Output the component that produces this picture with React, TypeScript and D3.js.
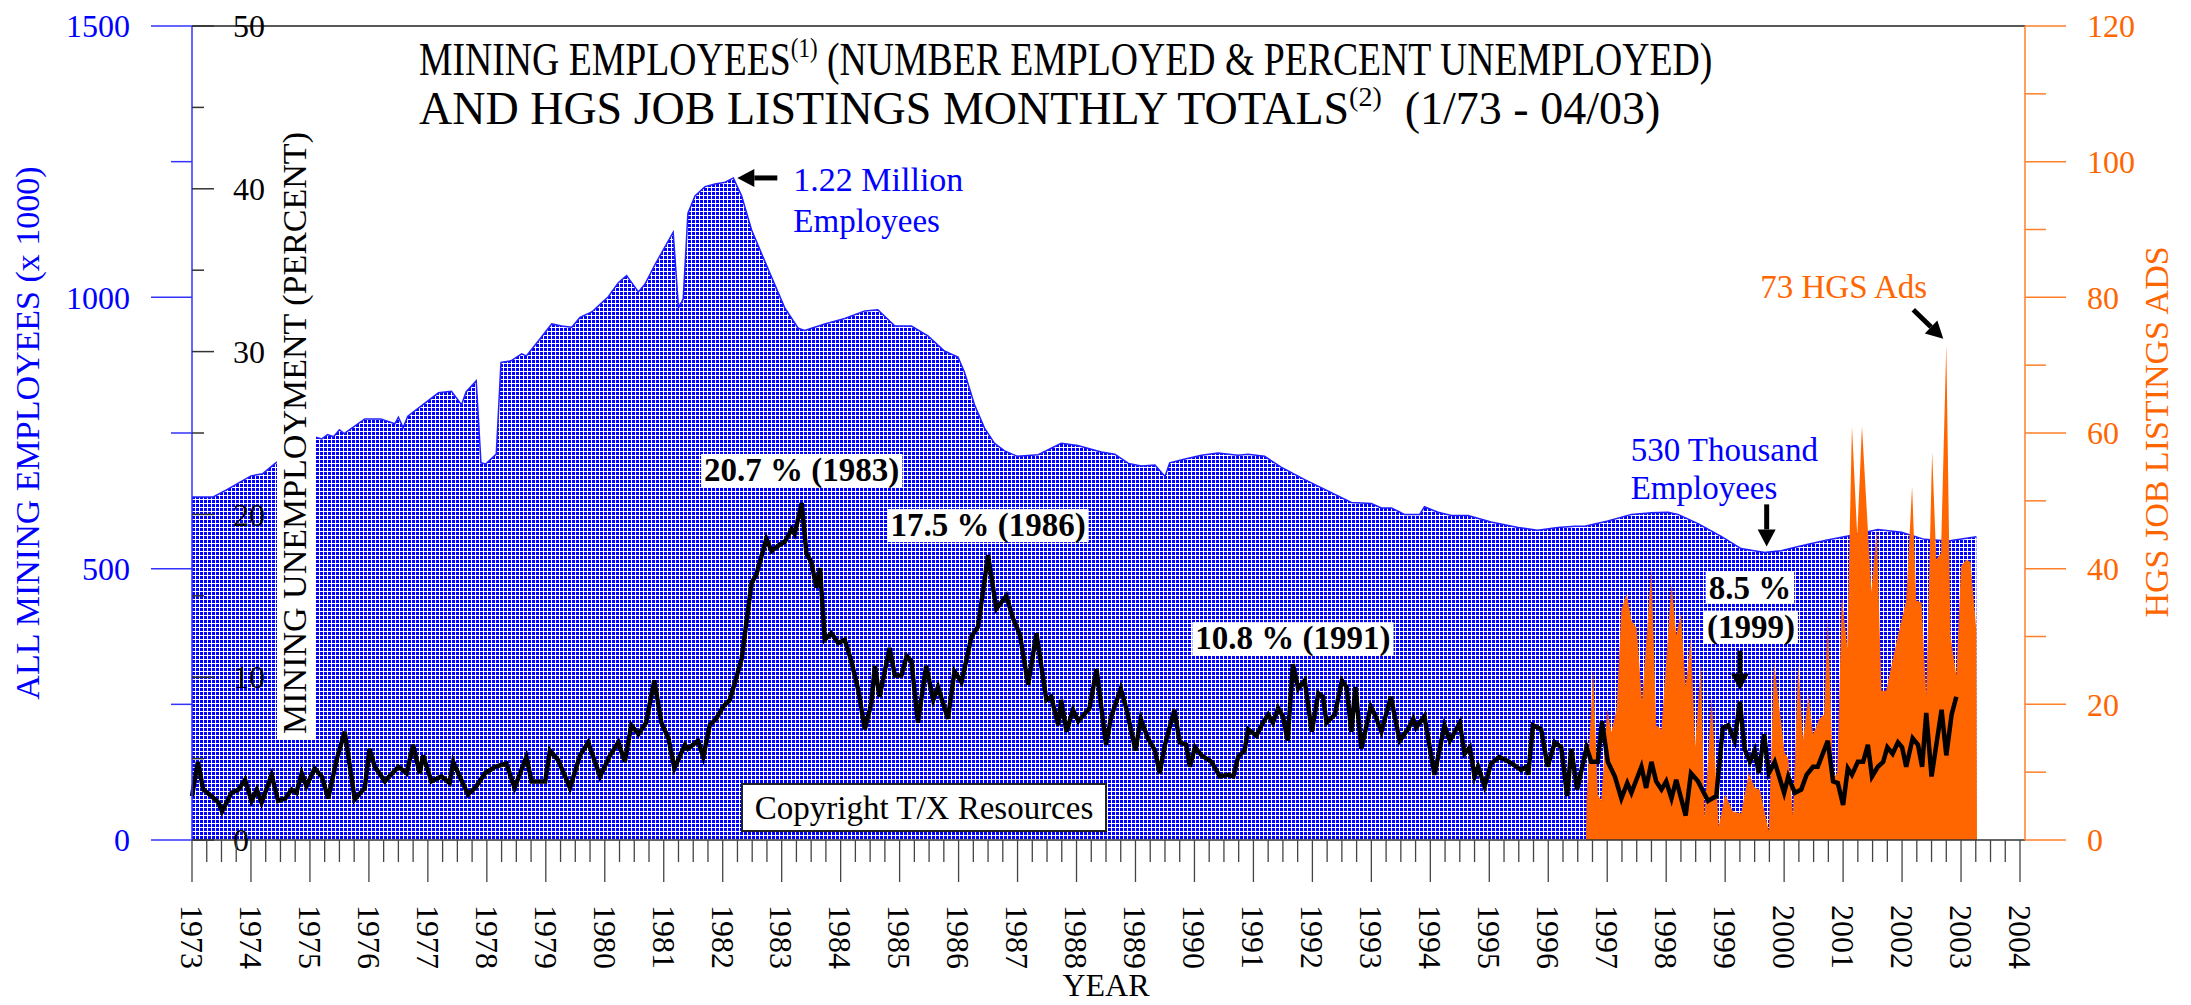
import React, { useEffect, useRef } from 'react';
import * as d3 from 'd3';

type Pt = [number, number];

// all mining employees, thousands (decimal year, value)
const employment: Pt[] = [
  [1973.0, 632], [1973.36, 632], [1973.6, 646], [1974.0, 671], [1974.2, 675], [1974.4, 693],
  [1974.75, 720], [1975.08, 743], [1975.2, 739], [1975.3, 747], [1975.4, 743], [1975.5, 756],
  [1975.58, 749], [1975.93, 776], [1976.2, 776], [1976.44, 767], [1976.5, 779], [1976.58, 760],
  [1976.66, 781], [1976.95, 805], [1977.18, 824], [1977.4, 827], [1977.57, 802], [1977.65, 826],
  [1977.82, 846], [1977.9, 695], [1977.98, 693], [1978.16, 711], [1978.24, 880], [1978.41, 883],
  [1978.59, 896], [1978.67, 892], [1978.87, 919], [1979.1, 951], [1979.27, 947], [1979.44, 945],
  [1979.58, 963], [1979.78, 973], [1979.92, 987], [1980.06, 1001], [1980.23, 1027], [1980.37, 1040],
  [1980.57, 1010], [1980.68, 1024], [1980.85, 1060], [1981.16, 1120], [1981.25, 981], [1981.33, 997],
  [1981.41, 1155], [1981.53, 1187], [1981.7, 1204], [1981.87, 1209], [1982.04, 1212], [1982.18, 1220],
  [1982.32, 1187], [1982.49, 1124], [1982.77, 1052], [1983.05, 981], [1983.28, 943], [1983.39, 939],
  [1983.73, 951], [1984.07, 961], [1984.41, 975], [1984.63, 977], [1984.92, 947], [1985.2, 947],
  [1985.48, 929], [1985.76, 901], [1985.99, 890], [1986.1, 862], [1986.27, 802], [1986.44, 759],
  [1986.61, 731], [1986.78, 717], [1987.0, 707], [1987.35, 710], [1987.74, 731], [1988.02, 727],
  [1988.42, 715], [1988.65, 711], [1988.88, 694], [1989.1, 689], [1989.33, 691], [1989.5, 670],
  [1989.58, 695], [1989.84, 702], [1990.12, 709], [1990.4, 713], [1990.74, 709], [1990.91, 711],
  [1991.19, 707], [1991.47, 687], [1991.87, 664], [1992.21, 646], [1992.66, 622], [1993.0, 620],
  [1993.17, 612], [1993.34, 612], [1993.56, 600], [1993.82, 600], [1993.9, 614], [1994.13, 604],
  [1994.36, 598], [1994.64, 598], [1995.03, 586], [1995.49, 576], [1995.82, 571], [1996.16, 576],
  [1996.45, 578], [1996.62, 578], [1997.01, 588], [1997.41, 600], [1997.75, 603], [1998.03, 604],
  [1998.2, 600], [1998.54, 583], [1998.94, 559], [1999.27, 537], [1999.67, 530], [1999.95, 533],
  [2000.24, 541], [2000.69, 552], [2001.08, 560], [2001.59, 572], [2001.99, 567], [2002.38, 554],
  [2002.78, 551], [2003.26, 559],
];

// mining unemployment, percent
const unemployment: Pt[] = [
  [1973.0, 2.7], [1973.1, 4.8], [1973.19, 3.1], [1973.33, 2.7], [1973.45, 2.3], [1973.51, 1.75],
  [1973.67, 2.9], [1973.79, 3.1], [1973.9, 3.7], [1974.01, 2.4], [1974.1, 3.1], [1974.18, 2.3],
  [1974.35, 4.0], [1974.46, 2.4], [1974.58, 2.55], [1974.69, 3.1], [1974.77, 2.9], [1974.86, 4.1],
  [1974.94, 3.3], [1975.08, 4.4], [1975.2, 3.9], [1975.31, 2.55], [1975.45, 4.9], [1975.59, 6.65],
  [1975.76, 2.5], [1975.93, 3.2], [1976.01, 5.6], [1976.1, 4.5], [1976.27, 3.6], [1976.5, 4.5],
  [1976.64, 4.1], [1976.75, 5.85], [1976.86, 4.1], [1976.92, 5.2], [1977.06, 3.6], [1977.23, 3.9],
  [1977.37, 3.5], [1977.43, 4.8], [1977.54, 3.9], [1977.68, 2.8], [1977.8, 3.2], [1977.97, 4.1],
  [1978.14, 4.5], [1978.33, 4.7], [1978.47, 3.2], [1978.67, 5.1], [1978.76, 3.6], [1978.99, 3.6],
  [1979.07, 5.5], [1979.21, 4.9], [1979.41, 3.2], [1979.58, 5.2], [1979.72, 6.0], [1979.92, 3.9],
  [1980.09, 5.2], [1980.23, 6.0], [1980.34, 4.8], [1980.45, 7.05], [1980.57, 6.5], [1980.7, 7.2],
  [1980.84, 9.8], [1980.96, 7.2], [1981.08, 6.25], [1981.18, 4.4], [1981.36, 5.85], [1981.41, 5.6],
  [1981.58, 6.1], [1981.67, 5.1], [1981.78, 7.05], [1981.89, 7.45], [1982.01, 8.2], [1982.12, 8.6],
  [1982.32, 11.1], [1982.49, 15.8], [1982.57, 16.3], [1982.74, 18.5], [1982.83, 17.75], [1982.97, 18.15],
  [1983.05, 18.3], [1983.17, 19.1], [1983.22, 18.8], [1983.34, 20.7], [1983.42, 17.6], [1983.5, 17.1],
  [1983.59, 15.5], [1983.65, 16.7], [1983.73, 12.3], [1983.84, 12.7], [1983.96, 12.1], [1984.07, 12.3],
  [1984.18, 11.0], [1984.3, 9.2], [1984.41, 6.8], [1984.52, 8.4], [1984.58, 10.7], [1984.66, 8.8],
  [1984.83, 11.8], [1984.92, 10.1], [1985.03, 10.1], [1985.12, 11.3], [1985.2, 11.0], [1985.31, 7.2],
  [1985.45, 10.7], [1985.57, 8.6], [1985.65, 9.4], [1985.82, 7.45], [1985.93, 10.35], [1986.05, 9.7],
  [1986.22, 12.5], [1986.33, 13.1], [1986.5, 17.5], [1986.64, 14.2], [1986.81, 15.0], [1986.92, 13.65],
  [1987.04, 12.6], [1987.18, 9.55], [1987.32, 12.7], [1987.49, 8.6], [1987.57, 8.8], [1987.69, 7.05],
  [1987.74, 8.6], [1987.83, 6.65], [1987.94, 8.0], [1988.03, 7.3], [1988.22, 8.1], [1988.34, 10.5],
  [1988.5, 5.85], [1988.59, 7.6], [1988.75, 9.3], [1988.85, 8.0], [1989.0, 5.5], [1989.09, 7.45],
  [1989.21, 6.25], [1989.33, 5.5], [1989.41, 4.1], [1989.5, 5.85], [1989.66, 8.0], [1989.75, 6.0],
  [1989.86, 5.85], [1989.92, 4.5], [1990.01, 5.7], [1990.12, 5.2], [1990.29, 4.8], [1990.43, 3.9],
  [1990.57, 4.0], [1990.66, 3.9], [1990.74, 5.1], [1990.85, 5.5], [1990.91, 6.8], [1991.05, 6.4],
  [1991.16, 7.2], [1991.25, 7.7], [1991.33, 7.2], [1991.42, 8.1], [1991.5, 7.6], [1991.58, 6.1],
  [1991.67, 10.8], [1991.76, 9.3], [1991.87, 9.8], [1991.99, 6.65], [1992.1, 9.0], [1992.18, 8.8],
  [1992.24, 7.2], [1992.38, 7.7], [1992.5, 9.8], [1992.58, 9.4], [1992.66, 6.65], [1992.73, 9.4],
  [1992.83, 5.6], [1992.99, 8.2], [1993.06, 7.7], [1993.17, 6.65], [1993.33, 8.8], [1993.48, 6.1],
  [1993.62, 6.8], [1993.71, 7.45], [1993.76, 6.9], [1993.9, 7.6], [1994.07, 4.0], [1994.24, 7.05],
  [1994.33, 6.1], [1994.5, 7.2], [1994.58, 5.3], [1994.67, 5.7], [1994.75, 3.9], [1994.81, 4.5],
  [1994.92, 3.3], [1995.03, 4.7], [1995.17, 5.1], [1995.34, 4.8], [1995.54, 4.3], [1995.63, 4.5],
  [1995.66, 4.0], [1995.74, 7.05], [1995.88, 6.8], [1995.99, 4.5], [1996.11, 6.0], [1996.22, 5.7],
  [1996.32, 2.7], [1996.39, 5.6], [1996.49, 3.1], [1996.65, 5.7], [1996.73, 4.8], [1996.84, 4.8],
  [1996.91, 7.3], [1997.01, 4.8], [1997.13, 3.9], [1997.24, 2.55], [1997.34, 3.5], [1997.41, 2.9],
  [1997.58, 4.5], [1997.66, 3.2], [1997.75, 4.8], [1997.83, 3.6], [1997.92, 3.1], [1998.0, 3.6],
  [1998.09, 2.55], [1998.17, 3.7], [1998.33, 1.5], [1998.42, 4.1], [1998.54, 3.6], [1998.71, 2.4],
  [1998.85, 2.7], [1998.96, 6.9], [1999.05, 7.05], [1999.16, 6.1], [1999.25, 8.5], [1999.33, 5.6],
  [1999.42, 4.8], [1999.5, 5.5], [1999.57, 4.1], [1999.66, 6.5], [1999.74, 4.1], [1999.84, 4.8],
  [2000.0, 2.9], [2000.07, 3.9], [2000.18, 2.9], [2000.29, 3.1], [2000.38, 4.0], [2000.49, 4.5],
  [2000.57, 4.5], [2000.74, 6.1], [2000.83, 3.6], [2000.91, 3.5], [2001.0, 2.15], [2001.08, 4.4],
  [2001.15, 4.0], [2001.25, 4.8], [2001.34, 4.8], [2001.42, 5.85], [2001.49, 3.9], [2001.59, 4.5],
  [2001.68, 4.8], [2001.75, 5.7], [2001.84, 5.3], [2001.93, 6.0], [2002.0, 5.7], [2002.07, 4.5],
  [2002.18, 6.25], [2002.27, 5.85], [2002.34, 4.5], [2002.41, 7.8], [2002.5, 3.9], [2002.67, 8.0],
  [2002.75, 5.2], [2002.84, 7.7], [2002.92, 8.8],
];

// HGS job listing ads per month
const hgsAds: Pt[] = [
  [1996.64, 0], [1996.65, 6], [1996.76, 25], [1996.84, 6.7], [1996.9, 5.8], [1997.0, 19.4],
  [1997.07, 15.9], [1997.16, 19.4], [1997.24, 34], [1997.33, 36.3], [1997.41, 32.4], [1997.5, 31.2],
  [1997.59, 20.4], [1997.75, 40.1], [1997.83, 16.9], [1997.92, 16.3], [1998.09, 37.9], [1998.17, 30.2],
  [1998.25, 33.4], [1998.33, 22.6], [1998.42, 29.9], [1998.49, 13.7], [1998.59, 26.1], [1998.65, 3.3],
  [1998.77, 21], [1998.89, 2], [1999.0, 6.75], [1999.13, 4.2], [1999.27, 3.9], [1999.4, 9.9],
  [1999.5, 7.7], [1999.59, 7.4], [1999.74, 1.3], [1999.83, 26.1], [2000.01, 12.8], [2000.07, 12.1],
  [2000.15, 3.6], [2000.24, 26.1], [2000.32, 14.7], [2000.41, 21.35], [2000.49, 15.6], [2000.6, 17.9],
  [2000.68, 18.5], [2000.74, 33.1], [2000.83, 9.0], [2000.9, 9.9], [2000.98, 35.9], [2001.07, 28.3],
  [2001.15, 61], [2001.24, 44.8], [2001.32, 61], [2001.48, 36.6], [2001.57, 45.8], [2001.65, 22],
  [2001.73, 22], [2001.93, 30.2], [2002.07, 35.3], [2002.17, 52.1], [2002.24, 35.3], [2002.33, 35.0],
  [2002.41, 21.35], [2002.51, 57.2], [2002.58, 41.3], [2002.66, 42.3], [2002.75, 73], [2002.82, 30.2],
  [2002.92, 24.2], [2003.0, 40.4], [2003.09, 41.3], [2003.16, 41.0], [2003.26, 30.9], [2003.27, 0],
];

const empTicks = [0, 500, 1000, 1500];
const empMinorTicks = [250, 750, 1250];
const pctTicks = [0, 10, 20, 30, 40, 50];
const pctMinorTicks = [5, 15, 25, 35, 45];
const adsTicks = [0, 20, 40, 60, 80, 100, 120];
const adsMinorTicks = [10, 30, 50, 70, 90, 110];
const yearTicks = d3.range(1973, 2005);

// call-outs: [year, value, label, offset above the peak]
const peakLabels: [number, number, string, number][] = [
  [1983.34, 20.7, '20.7 % (1983)', 22],
  [1986.5, 17.5, '17.5 % (1986)', 19],
  [1991.67, 10.8, '10.8 % (1991)', 15],
];

const FONT = '"Liberation Serif", "Times New Roman", Times, serif';
const BLUE = '#0000ff';
const ORANGE = '#ff6600';

function drawArrow(g: any, x1: number, y1: number, x2: number, y2: number) {
  const ang = Math.atan2(y2 - y1, x2 - x1);
  const headLen = 17, headW = 9;
  const bx = x2 - headLen * Math.cos(ang);
  const by = y2 - headLen * Math.sin(ang);
  g.append('line')
    .attr('x1', x1).attr('y1', y1).attr('x2', bx).attr('y2', by)
    .attr('stroke', '#000').attr('stroke-width', 5);
  g.append('path')
    .attr('d', `M${x2},${y2}L${bx + headW * Math.sin(ang)},${by - headW * Math.cos(ang)}L${bx - headW * Math.sin(ang)},${by + headW * Math.cos(ang)}Z`)
    .attr('fill', '#000');
}

function boxedText(g: any, x: number, y: number, text: string, anchor = 'middle') {
  const t = g.append('text')
    .attr('x', x).attr('y', y)
    .attr('text-anchor', anchor)
    .attr('font-weight', 'bold')
    .attr('font-size', 33)
    .text(text);
  const bb = (t.node() as SVGTextElement).getBBox();
  g.insert('rect', () => t.node())
    .attr('x', bb.x - 3).attr('y', bb.y + 2)
    .attr('width', bb.width + 6).attr('height', bb.height - 4)
    .attr('fill', '#fff');
  return t;
}

function drawChart(node: SVGSVGElement) {
  const left = 192, right = 2025, top = 26, bottom = 840;

  const svg = d3.select(node);
  svg.selectAll('*').remove();
  svg.attr('width', 2191).attr('height', 1005)
    .attr('font-family', FONT)
    .style('font-family', FONT)
    .style('background', '#fff');

  const x = d3.scaleLinear().domain([1973, 2004]).range([left, 2020]);
  const yEmp = d3.scaleLinear().domain([0, 1500]).range([bottom, top]);
  const yPct = d3.scaleLinear().domain([0, 50]).range([bottom, top]);
  const yAds = d3.scaleLinear().domain([0, 120]).range([bottom, top]);

  // dotted fill like the original hatch
  const pat = svg.append('defs').append('pattern')
    .attr('id', 'dots').attr('patternUnits', 'userSpaceOnUse')
    .attr('width', 4).attr('height', 4);
  pat.append('rect').attr('width', 4).attr('height', 4).attr('fill', '#fff');
  pat.append('rect').attr('x', 0).attr('y', 0).attr('width', 3).attr('height', 3).attr('fill', BLUE);

  // Employees area
  const empArea = d3.area<Pt>().x(d => x(d[0])).y0(bottom).y1(d => yEmp(d[1]));
  const empLine = d3.line<Pt>().x(d => x(d[0])).y(d => yEmp(d[1]));
  svg.append('path').datum(employment).attr('d', empArea).attr('fill', 'url(#dots)');
  svg.append('path').datum(employment).attr('d', empLine)
    .attr('fill', 'none').attr('stroke', '#2020ff').attr('stroke-width', 1.5);

  // percent axis title sits on a white strip
  svg.append('rect').attr('x', 277).attr('y', 120).attr('width', 39).attr('height', 620).attr('fill', '#fff');
  svg.append('text')
    .attr('transform', 'translate(306,433) rotate(-90)')
    .attr('text-anchor', 'middle').attr('font-size', 34)
    .text('MINING UNEMPLOYMENT (PERCENT)');

  // HGS ads area
  const adsArea = d3.area<Pt>().x(d => x(d[0])).y0(bottom).y1(d => yAds(d[1]));
  svg.append('path').datum(hgsAds).attr('d', adsArea).attr('fill', ORANGE);

  // Unemployment line
  const pctLine = d3.line<Pt>().x(d => x(d[0])).y(d => yPct(d[1]));
  svg.append('path').datum(unemployment).attr('d', pctLine)
    .attr('fill', 'none').attr('stroke', '#000').attr('stroke-width', 4.5)
    .attr('stroke-linejoin', 'miter');

  // frame
  svg.append('line').attr('x1', left).attr('x2', right).attr('y1', top).attr('y2', top)
    .attr('stroke', '#222').attr('stroke-width', 1.5);
  svg.append('line').attr('x1', left).attr('x2', right).attr('y1', bottom).attr('y2', bottom)
    .attr('stroke', '#333').attr('stroke-width', 1.5);

  // Left blue axis
  const gE = svg.append('g');
  gE.append('line').attr('x1', left).attr('x2', left).attr('y1', top).attr('y2', bottom)
    .attr('stroke', '#3333ff').attr('stroke-width', 1.5);
  gE.selectAll('.maj').data(empTicks).enter().append('line')
    .attr('x1', 151).attr('x2', left).attr('y1', d => yEmp(d)).attr('y2', d => yEmp(d))
    .attr('stroke', '#3333ff').attr('stroke-width', 1.5);
  gE.selectAll('.min').data(empMinorTicks).enter().append('line')
    .attr('x1', 171).attr('x2', left).attr('y1', d => yEmp(d)).attr('y2', d => yEmp(d))
    .attr('stroke', '#3333ff').attr('stroke-width', 1.5);
  gE.selectAll('text').data(empTicks).enter().append('text')
    .attr('x', 130).attr('y', d => yEmp(d)).attr('dy', '0.35em')
    .attr('text-anchor', 'end').attr('font-size', 32).attr('fill', BLUE)
    .text(d => d);
  svg.append('text')
    .attr('transform', 'translate(39,433) rotate(-90)')
    .attr('text-anchor', 'middle').attr('font-size', 34).attr('fill', BLUE)
    .text('ALL MINING EMPLOYEES (x 1000)');

  // Percent axis (inner, black)
  const gP = svg.append('g');
  gP.selectAll('.maj').data(pctTicks).enter().append('line')
    .attr('x1', left).attr('x2', 214).attr('y1', d => yPct(d)).attr('y2', d => yPct(d))
    .attr('stroke', '#333').attr('stroke-width', 1.5);
  gP.selectAll('.min').data(pctMinorTicks).enter().append('line')
    .attr('x1', left).attr('x2', 204).attr('y1', d => yPct(d)).attr('y2', d => yPct(d))
    .attr('stroke', '#333').attr('stroke-width', 1.5);
  gP.selectAll('text').data(pctTicks).enter().append('text')
    .attr('x', 233).attr('y', d => yPct(d)).attr('dy', '0.35em')
    .attr('font-size', 32).attr('fill', '#000')
    .text(d => d);

  // Right orange axis
  const gA = svg.append('g');
  gA.append('line').attr('x1', right).attr('x2', right).attr('y1', top).attr('y2', bottom)
    .attr('stroke', '#ff7f2a').attr('stroke-width', 1.5);
  gA.selectAll('.maj').data(adsTicks).enter().append('line')
    .attr('x1', right).attr('x2', 2066).attr('y1', d => yAds(d)).attr('y2', d => yAds(d))
    .attr('stroke', '#ff7f2a').attr('stroke-width', 1.5);
  gA.selectAll('.min').data(adsMinorTicks).enter().append('line')
    .attr('x1', right).attr('x2', 2046).attr('y1', d => yAds(d)).attr('y2', d => yAds(d))
    .attr('stroke', '#ff7f2a').attr('stroke-width', 1.5);
  gA.selectAll('text').data(adsTicks).enter().append('text')
    .attr('x', 2087).attr('y', d => yAds(d)).attr('dy', '0.35em')
    .attr('font-size', 32).attr('fill', ORANGE)
    .text(d => d);
  svg.append('text')
    .attr('transform', 'translate(2168,432) rotate(-90)')
    .attr('text-anchor', 'middle').attr('font-size', 34).attr('fill', ORANGE)
    .text('HGS JOB LISTINGS ADS');

  // X axis (years, quarterly minor ticks)
  const quarters = d3.range(1973, 2004.01, 0.25).filter(q => q % 1 !== 0);
  const gX = svg.append('g');
  gX.selectAll('.min').data(quarters).enter().append('line')
    .attr('x1', d => x(d)).attr('x2', d => x(d)).attr('y1', bottom).attr('y2', 862)
    .attr('stroke', '#444').attr('stroke-width', 1.3);
  gX.selectAll('.maj').data(yearTicks).enter().append('line')
    .attr('x1', d => x(d)).attr('x2', d => x(d)).attr('y1', bottom).attr('y2', 882)
    .attr('stroke', '#444').attr('stroke-width', 1.3);
  gX.selectAll('text').data(yearTicks).enter().append('text')
    .attr('transform', d => `translate(${x(d)},905) rotate(90)`)
    .attr('dy', '0.35em').attr('font-size', 32)
    .text(d => d);
  svg.append('text')
    .attr('x', 1106).attr('y', 996).attr('text-anchor', 'middle').attr('font-size', 32)
    .text('YEAR');

  // Title
  const t1 = svg.append('text')
    .attr('transform', 'translate(419,75) scale(0.82,1)')
    .attr('font-size', 46).style('white-space', 'pre');
  t1.append('tspan').text('MINING EMPLOYEES');
  t1.append('tspan').attr('font-size', 28).attr('dy', -18).text('(1)');
  t1.append('tspan').attr('dy', 18).text(' (NUMBER EMPLOYED & PERCENT UNEMPLOYED)');
  const t2 = svg.append('text')
    .attr('x', 419).attr('y', 124)
    .attr('font-size', 46).style('white-space', 'pre');
  t2.append('tspan').text('AND HGS JOB LISTINGS MONTHLY TOTALS');
  t2.append('tspan').attr('font-size', 28).attr('dy', -18).text('(2)');
  t2.append('tspan').attr('dy', 18).text('  (1/73 - 04/03)');

  // Annotations
  const gN = svg.append('g');
  const empPeak = employment.reduce((a, b) => (b[1] > a[1] ? b : a));
  const px = x(empPeak[0]) + 4, py = yEmp(empPeak[1]);
  drawArrow(gN, px + 40, py, px, py);
  gN.append('text').attr('x', px + 56).attr('y', py + 13).attr('font-size', 34).attr('fill', BLUE).text('1.22 Million');
  gN.append('text').attr('x', px + 56).attr('y', py + 54).attr('font-size', 33).attr('fill', BLUE).text('Employees');

  peakLabels.forEach(([yr, v, label, off]) => {
    boxedText(gN, x(yr), yPct(v) - off, label);
  });

  // 8.5 % (1999)
  const p99x = x(1999.25), p99y = yPct(8.5);
  boxedText(gN, p99x + 10, p99y - 103, '8.5 %');
  boxedText(gN, p99x + 11, p99y - 64, '(1999)');
  drawArrow(gN, p99x, p99y - 51, p99x, p99y - 11);

  // 530 thousand trough
  const tx = x(1999.67), ty = yEmp(530);
  drawArrow(gN, tx + 2, ty - 48, tx + 2, ty - 6);
  gN.append('text').attr('x', tx - 134).attr('y', ty - 91).attr('font-size', 33).attr('fill', BLUE).text('530 Thousand');
  gN.append('text').attr('x', tx - 134).attr('y', ty - 53).attr('font-size', 33).attr('fill', BLUE).text('Employees');

  // 73 ads peak
  const ax = x(2002.75), ay = yAds(73);
  drawArrow(gN, ax - 33, ay - 35, ax - 3, ay - 6);
  gN.append('text').attr('x', ax - 186).attr('y', ay - 47).attr('font-size', 33).attr('fill', ORANGE).text('73 HGS Ads');

  // copyright box
  gN.append('rect').attr('x', 742).attr('y', 784).attr('width', 364).attr('height', 47)
    .attr('fill', '#fff').attr('stroke', '#222').attr('stroke-width', 2);
  gN.append('text').attr('x', 924).attr('y', 819).attr('text-anchor', 'middle')
    .attr('font-size', 33).text('Copyright T/X Resources');

  return svg.node();
}

const App = () => {
  const ref = useRef<SVGSVGElement>(null);
  useEffect(() => {
    if (ref.current) drawChart(ref.current);
  }, []);

  return (
    <div style={{ position: 'absolute', left: 0, top: 0, width: 2191, height: 1005, background: '#fff' }}>
      <svg ref={ref} width={2191} height={1005}></svg>
    </div>
  );
};

export default App;
